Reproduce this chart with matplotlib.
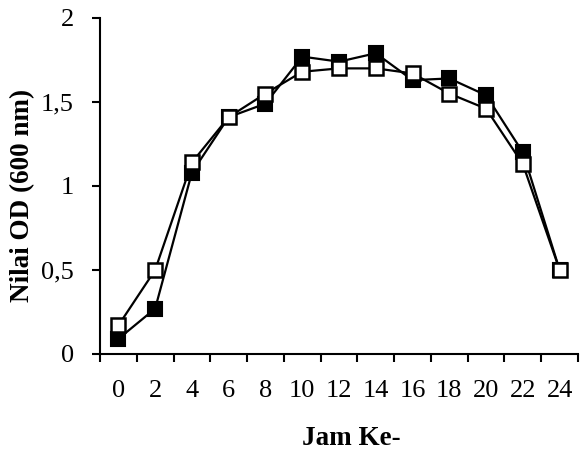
import matplotlib
matplotlib.use("Agg")
import matplotlib.pyplot as plt

jam = ["0", "2", "4", "6", "8", "10", "12", "14", "16", "18", "20", "22", "24"]
od_isi = [0.09, 0.27, 1.08, 1.41, 1.49, 1.77, 1.74, 1.79, 1.63, 1.64, 1.54, 1.20, 0.50]
od_kosong = [0.17, 0.50, 1.14, 1.41, 1.55, 1.68, 1.70, 1.70, 1.67, 1.55, 1.46, 1.13, 0.50]
y_ticks = [0, 0.5, 1, 1.5, 2]
y_labels = ["0", "0,5", "1", "1,5", "2"]

plt.rcParams['font.family'] = ['Liberation Serif', 'DejaVu Serif']

fig = plt.figure(figsize=(5.8, 4.54), dpi=100)
ax = fig.add_axes([0.1724, 0.2203, 0.8242, 0.7401])

x = list(range(len(jam)))
ax.plot(x, od_isi, color='black', lw=1.6, marker='s', ms=10,
        mfc='black', mec='black', mew=1.5, zorder=3)
ax.plot(x, od_kosong, color='black', lw=1.6, marker='s', ms=10,
        mfc='white', mec='black', mew=1.8, zorder=4)

ax.set_xlim(-0.5, len(jam) - 0.5)
ax.set_ylim(0, 2)

# category axis: ticks between the categories, labels in the middle
ax.set_xticks([i - 0.5 for i in range(len(jam) + 1)])
ax.set_xticklabels([])
ax.set_xticks(x, minor=True)
ax.set_xticklabels(jam, minor=True)
ax.tick_params(axis='x', which='major', direction='out', length=5.8, width=1.5)
ax.tick_params(axis='x', which='minor', length=0, pad=19, labelsize=19)

ax.set_yticks(y_ticks)
ax.set_yticklabels(y_labels)
ax.tick_params(axis='y', direction='out', length=5.8, width=1.5, pad=13, labelsize=19)

for s in ['top', 'right']:
    ax.spines[s].set_visible(False)
for s in ['left', 'bottom']:
    ax.spines[s].set_linewidth(1.5)

ax.set_xlabel("Jam Ke-", fontsize=19.5, fontweight='bold')
ax.xaxis.set_label_coords(0.525, -0.215)
ax.set_ylabel("Nilai OD (600 nm)", fontsize=19.5, fontweight='bold')
ax.yaxis.set_label_coords(-0.136, 0.473)

fig.savefig("out.png", dpi=100)
